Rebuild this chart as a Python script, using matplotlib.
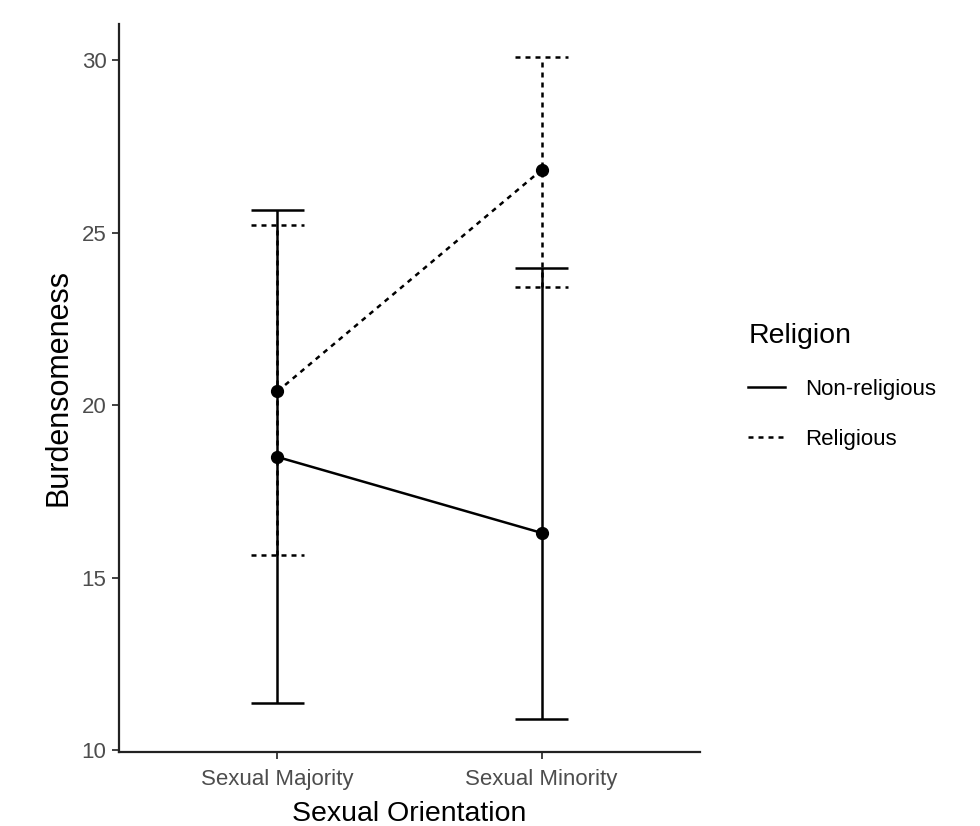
import numpy as np
import matplotlib.pyplot as plt
from matplotlib.lines import Line2D

plt.rcParams['font.family'] = ['Liberation Sans', 'DejaVu Sans']

orijentacija = ["Sexual Majority", "Sexual Minority"]
religija = ["Non-religious", "Religious"]

# srednje vrijednosti i granice intervala (procijenjeno sa slike)
sredina_nereligiozni = [18.5, 16.3]
donja_nereligiozni = [11.36, 10.9]
gornja_nereligiozni = [25.65, 23.99]

sredina_religiozni = [20.4, 26.82]
donja_religiozni = [15.66, 23.44]
gornja_religiozni = [25.23, 30.09]

y_ticks = [10, 15, 20, 25, 30]

fig = plt.figure(figsize=(9.8, 8.26), dpi=100)
ax = fig.add_axes([0.1214, 0.0896, 0.5929, 0.8814])

x = np.arange(len(orijentacija))
sirina_kape = 0.1
debljina = 1.8

stilovi = {"Non-religious": "-", "Religious": (0, (2, 2))}
podaci = {
    "Non-religious": (sredina_nereligiozni, donja_nereligiozni, gornja_nereligiozni),
    "Religious": (sredina_religiozni, donja_religiozni, gornja_religiozni),
}

for naziv in religija:
    sredina, donja, gornja = podaci[naziv]
    ls = stilovi[naziv]
    ax.vlines(x, donja, gornja, colors="black", linestyles=[ls], linewidth=debljina)
    ax.hlines(donja, x - sirina_kape, x + sirina_kape, colors="black", linestyles=[ls], linewidth=debljina)
    ax.hlines(gornja, x - sirina_kape, x + sirina_kape, colors="black", linestyles=[ls], linewidth=debljina)
    ax.plot(x, sredina, color="black", linestyle=ls, linewidth=debljina)
    ax.plot(x, sredina, "o", color="black", markersize=8.5)

ax.set_xlim(-0.6, 1.6)
ax.set_ylim(9.95, 31.05)
ax.set_xticks(x)
ax.set_xticklabels(orijentacija)
ax.set_yticks(y_ticks)

for s in ["top", "right"]:
    ax.spines[s].set_visible(False)
for s in ["left", "bottom"]:
    ax.spines[s].set_linewidth(1.6)
    ax.spines[s].set_color("#222222")

ax.tick_params(axis="both", direction="out", length=5, width=1.3, color="#333333",
               labelsize=16, labelcolor="#4D4D4D")
ax.tick_params(axis="x", pad=7.5)
ax.tick_params(axis="y", pad=4)

ax.set_xlabel("Sexual Orientation", fontsize=20.5, labelpad=8)
ax.set_ylabel("Burdensomeness", fontsize=22, labelpad=6)

ruke = [Line2D([0], [0], color="black", linestyle=stilovi[n], linewidth=debljina) for n in religija]
leg = fig.legend(ruke, religija, title="Religion", loc="center left",
                 bbox_to_anchor=(0.743, 0.532), frameon=False, fontsize=16,
                 title_fontsize=20.5, handlelength=1.66, labelspacing=1.33,
                 handletextpad=0.9)
leg._legend_box.align = "left"

fig.savefig("out.png", dpi=100)
